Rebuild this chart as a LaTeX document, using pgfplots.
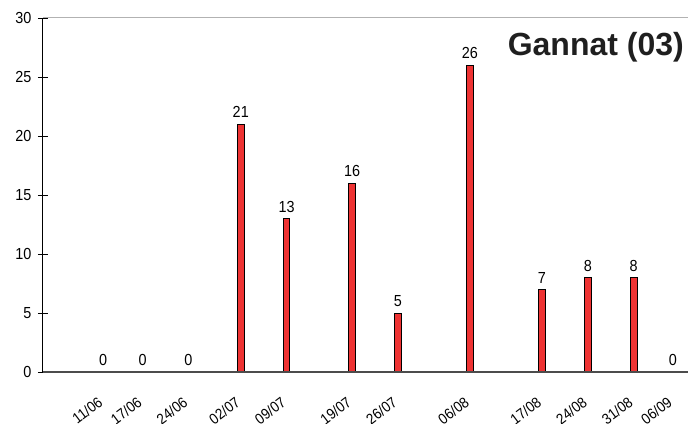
\documentclass[border=0pt]{standalone}
\usepackage{fontspec}
\setmainfont{Liberation Sans}
\newfontfamily\condfont{Liberation Sans}[FakeStretch=0.9]
\usepackage{pgfplots}
\pgfplotsset{compat=1.18}
\definecolor{barred}{HTML}{EE3333}
\begin{document}
\begin{tikzpicture}[x=1pt,y=1pt]
\useasboundingbox (-43,-51) rectangle (645,372);
\begin{axis}[
  scale only axis, width=645pt, height=354pt,
  at={(0,0)}, anchor=south west,
  xmin=-9.2, xmax=89.3, ymin=0, ymax=30,
  axis line style={draw=none},
  ytick={0,5,10,15,20,25,30},
  xtick={0,6,13,21,28,38,45,56,67,74,81,87},
  xticklabels={11/06,17/06,24/06,02/07,09/07,19/07,26/07,06/08,17/08,24/08,31/08,06/09},
  tick pos=left,
  tick align=center,
  major tick length=10pt,
  y tick style={black, line width=0.8pt},
  x tick style={draw=none},
  /pgf/number format/assume math mode=true,
  yticklabel style={font=\condfont\fontsize{16}{16}\selectfont, xshift=-3pt},
  xticklabel style={font=\condfont\fontsize{15}{15}\selectfont, rotate=37, anchor=north east, xshift=-13pt, yshift=-8pt},
  clip=false,
]
\addplot[ybar, bar width=6.5pt, fill=barred, draw=black, line width=0.8pt,
  nodes near coords,
  every node near coord/.append style={font=\condfont\fontsize{16}{16}\selectfont, text=black, yshift=2.5pt}]
  coordinates {(0,0) (6,0) (13,0) (21,21) (28,13) (38,16) (45,5) (56,26) (67,7) (74,8) (81,8) (87,0)};
\draw[gray!60, line width=1pt] (rel axis cs:0,1) -- (rel axis cs:1,1);
\draw[black!70, line width=1.2pt] (rel axis cs:0,0) -- (rel axis cs:1,0);
\draw[black, line width=1pt] (rel axis cs:0,0) -- (rel axis cs:0,1);
\end{axis}
\node[anchor=north east, inner sep=0pt, font=\bfseries\fontsize{32}{32}\selectfont, text=black!88] at (641,340) {Gannat (03)};
\end{tikzpicture}
\end{document}
